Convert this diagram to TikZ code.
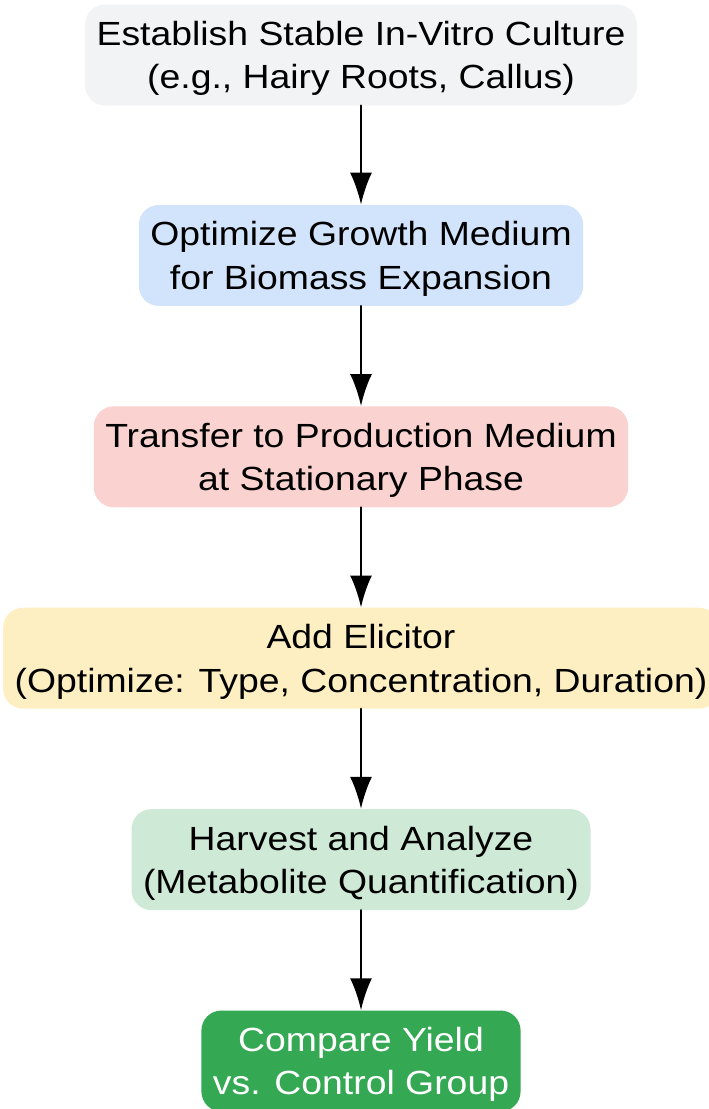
\documentclass[tikz,border=0pt]{standalone}
\usepackage{fontspec}
\setmainfont[FakeStretch=1.115]{Liberation Sans}
\usepackage{xcolor}
\usepackage{tikz}
\usetikzlibrary{positioning,arrows.meta}
\definecolor{stepgray}{HTML}{F1F3F4}
\definecolor{stepblue}{HTML}{D2E3FC}
\definecolor{stepred}{HTML}{FAD2CF}
\definecolor{stepyellow}{HTML}{FEEFC3}
\definecolor{steplightgreen}{HTML}{CEEAD6}
\definecolor{stepgreen}{HTML}{34A853}

\begin{document}
\begin{tikzpicture}[x=1pt, y=1pt, line cap=round, line join=round,
    stepbox/.style={rounded corners=20pt, align=center, minimum height=101pt,
      inner xsep=11.5pt, text depth=0pt, font=\fontsize{33.5}{43.5}\selectfont},
    flow/.style={-{Latex[length=32pt, width=22pt]}, line width=2.7pt}]
  \useasboundingbox (0,0) rectangle (709,-1109);
  % Steps of the workflow
  \node[stepbox, fill=stepgray] (culture) at (361,-55) {Establish Stable In-Vitro Culture\\(e.g., Hairy Roots, Callus)};
  \node[stepbox, fill=stepblue, below=99pt of culture] (growth) {Optimize Growth Medium\\for Biomass Expansion};
  \node[stepbox, fill=stepred, below=100pt of growth] (transfer) {Transfer to Production Medium\\at Stationary Phase};
  \node[stepbox, fill=stepyellow, below=100pt of transfer] (elicitor) {Add Elicitor\\(Optimize: Type, Concentration, Duration)};
  \node[stepbox, fill=steplightgreen, below=100pt of elicitor] (harvest) {Harvest and Analyze\\(Metabolite Quantification)};
  \node[stepbox, fill=stepgreen, text=white, below=100pt of harvest] (compare) {Compare Yield\\vs. Control Group};
  % Arrows
  \draw[flow] (culture) -- (growth);
  \draw[flow] (growth) -- (transfer);
  \draw[flow] (transfer) -- (elicitor);
  \draw[flow] (elicitor) -- (harvest);
  \draw[flow] (harvest) -- (compare);
\end{tikzpicture}
\end{document}
